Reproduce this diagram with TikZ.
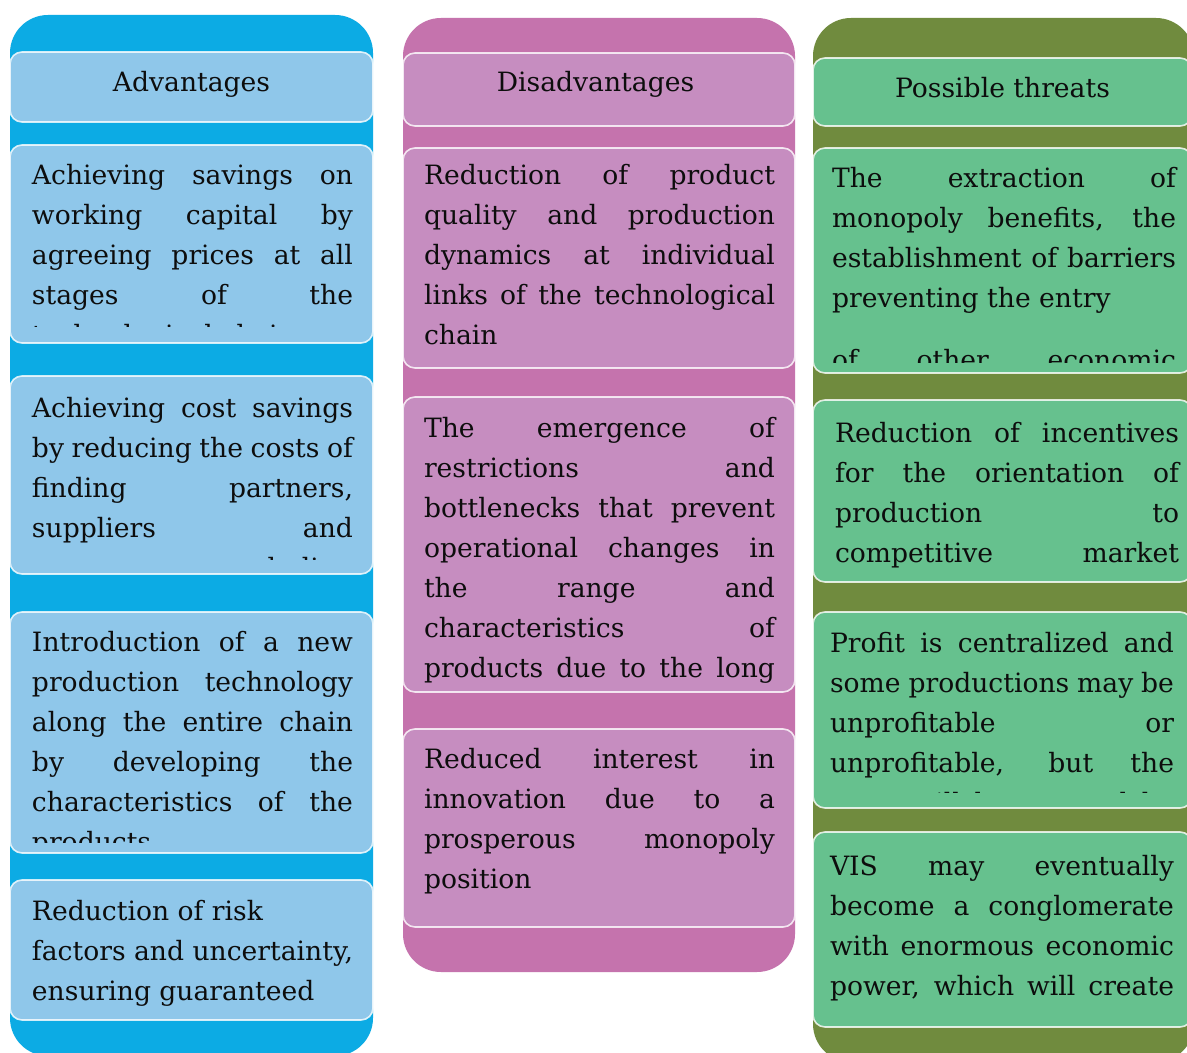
\documentclass[tikz,border=0pt]{standalone}
\usepackage{fontspec}
\setmainfont{DejaVu Serif}
\usepackage{tikz}
\definecolor{bandA}{RGB}{12,171,228}
\definecolor{cellA}{RGB}{143,199,234}
\definecolor{bandB}{RGB}{197,115,173}
\definecolor{cellB}{RGB}{198,141,192}
\definecolor{bandC}{RGB}{112,139,62}
\definecolor{cellC}{RGB}{102,193,142}
\newcommand{\cellfont}{\fontsize{13.3}{20}\selectfont}
\setlength{\parindent}{0pt}
\tolerance=10000
\hbadness=10000
\hfuzz=5pt
\hyphenpenalty=10000

\begin{document}
\begin{tikzpicture}[x=0.5pt,y=-0.5pt]
% Default actions for each node
\tikzstyle{every node}=[inner sep=0pt, outer sep=0pt, text=black!95];
\tikzstyle{band} = [rounded corners=19pt]
\tikzstyle{cell} = [rounded corners=6pt, draw=white, draw opacity=0.8, line width=0.8pt]
\tikzstyle{head} = [anchor=base, font=\cellfont]
\tikzstyle{item} = [anchor=north west, align=justify, font=\cellfont, execute at begin node=\strut]
\useasboundingbox (0,0) rectangle (1187,1053);
\clip (0,0) rectangle (1187,1053);
\fill[white] (0,0) rectangle (1187,1053);

% Advantages column
\fill[band, bandA] (10,15) rectangle (373,1056);
\draw[cell, fill=cellA] (10,52) rectangle (373,122);
\draw[cell, fill=cellA] (10,145) rectangle (373,343);
\draw[cell, fill=cellA] (10,376) rectangle (373,574);
\draw[cell, fill=cellA] (10,612) rectangle (373,853);
\draw[cell, fill=cellA] (10,880) rectangle (373,1020);
\node[head] (advHead) at (191.5,92) {Advantages};
\begin{scope}
\clip (10,145) rectangle (373,327);
\node[item, text width=160.5pt] (adv1) at (32,157) {Achieving savings on\linebreak working capital by\linebreak agreeing prices at all\linebreak stages of the\linebreak technological chain};
\end{scope}
\begin{scope}
\clip (10,376) rectangle (373,559);
\node[item, text width=160.5pt] (adv2) at (32,389) {Achieving cost savings\linebreak by reducing the costs of\linebreak finding partners,\linebreak suppliers and\linebreak consumers, concluding\linebreak\null};
\end{scope}
\begin{scope}
\clip (10,612) rectangle (373,842);
\node[item, text width=160.5pt] (adv3) at (32,623) {Introduction of a new\linebreak production technology\linebreak along the entire chain\linebreak by developing the\linebreak characteristics of the\linebreak products};
\end{scope}
\node[item, text width=160.5pt] (adv4) at (32,892) {Reduction of risk\\ factors and uncertainty,\\ ensuring guaranteed};

% Disadvantages column
\fill[band, bandB] (403,18) rectangle (795,972);
\draw[cell, fill=cellB] (403,53) rectangle (795,126);
\draw[cell, fill=cellB] (403,148) rectangle (795,368);
\draw[cell, fill=cellB] (403,397) rectangle (795,692);
\draw[cell, fill=cellB] (403,729) rectangle (795,927);
\node[head] (disHead) at (595.5,92) {Disadvantages};
\node[item, text width=175.5pt] (dis1) at (424,157) {Reduction of product\linebreak quality and production\linebreak dynamics at individual\linebreak links of the technological\linebreak chain};
\begin{scope}
\clip (403,397) rectangle (795,683);
\node[item, text width=175.5pt] (dis2) at (424,409) {The emergence of\linebreak restrictions and\linebreak bottlenecks that prevent\linebreak operational changes in\linebreak the range and\linebreak characteristics of\linebreak products due to the long\linebreak\null};
\end{scope}
\node[item, text width=175.5pt] (dis3) at (424,740) {Reduced interest in\linebreak innovation due to a\linebreak prosperous monopoly\linebreak position};

% Possible threats column
\fill[band, bandC] (813,18) rectangle (1194,1062);
\draw[cell, fill=cellC] (813,58) rectangle (1192,126);
\draw[cell, fill=cellC] (813,148) rectangle (1192,373);
\draw[cell, fill=cellC] (813,400) rectangle (1192,582);
\draw[cell, fill=cellC] (813,612) rectangle (1192,808);
\draw[cell, fill=cellC] (813,832) rectangle (1192,1027);
\node[head] (thrHead) at (1002.5,98) {Possible threats};
\begin{scope}
\clip (813,148) rectangle (1192,362);
\node[item, text width=172pt] (thr1) at (832,160) {The extraction of\linebreak monopoly benefits, the\linebreak establishment of barriers\linebreak preventing the entry\par\vspace{11pt}of other economic\linebreak\null};
\end{scope}
\node[item, text width=172pt] (thr2) at (835,414) {Reduction of incentives\linebreak for the orientation of\linebreak production to\linebreak competitive market\linebreak\null};
\begin{scope}
\clip (813,612) rectangle (1192,792);
\node[item, text width=172pt] (thr3) at (830,624) {Profit is centralized and\linebreak some productions may be\linebreak unprofitable or\linebreak unprofitable, but the\linebreak costs will be covered by\linebreak\null};
\end{scope}
\node[item, text width=172pt] (thr4) at (830,847) {VIS may eventually\linebreak become a conglomerate\linebreak with enormous economic\linebreak power, which will create\linebreak\null};
\end{tikzpicture}
\end{document}
